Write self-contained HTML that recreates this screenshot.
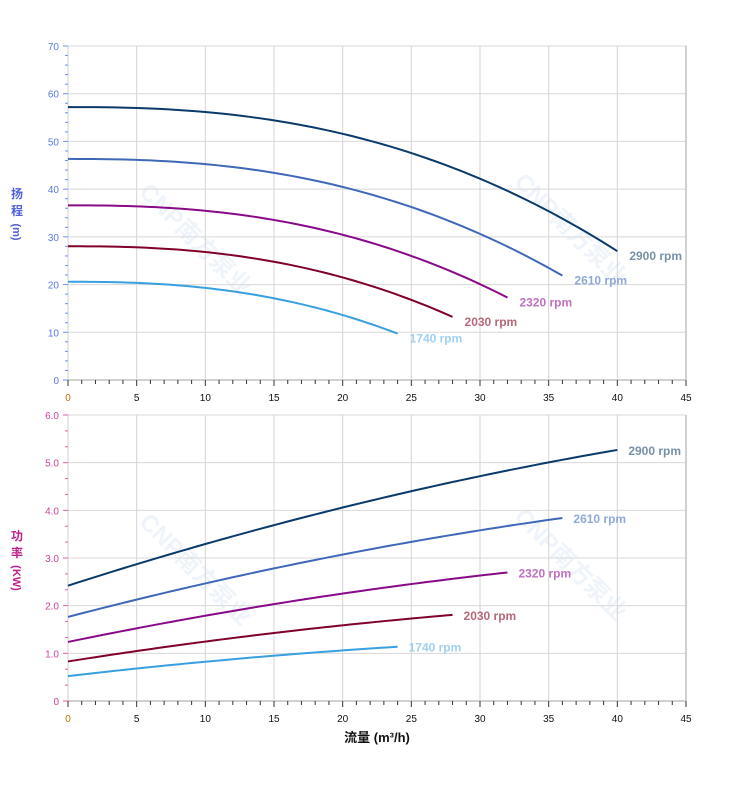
<!DOCTYPE html>
<html><head><meta charset="utf-8"><style>
body{margin:0;background:#fff;}
svg text{font-family:"Liberation Sans","Noto Sans CJK SC",sans-serif;}
</style></head><body>
<svg id="s" width="752" height="797" xmlns="http://www.w3.org/2000/svg"></svg>
<script>
var s=document.getElementById('s'),h='';
var X0=68,X1=686;function X(q){return X0+q*(X1-X0)/45;}
var T0=380,T1=46;function YT(v){return T0-v*(T0-T1)/70;}
var B0=701,B1=415;function YB(v){return B0-v*(B0-B1)/6;}
function ln(x1,y1,x2,y2,c,w){h+='<line x1="'+x1+'" y1="'+y1+'" x2="'+x2+'" y2="'+y2+'" stroke="'+c+'" stroke-width="'+(w||1)+'"/>';}
function tx(x,y,t,c,sz,anc,extra){h+='<text x="'+x+'" y="'+y+'" fill="'+c+'" font-size="'+sz+'" text-anchor="'+(anc||'start')+'" '+(extra||'')+'>'+t+'</text>';}
[[190,245],[565,235],[190,575],[565,570]].forEach(function(p){
h+='<text x="'+p[0]+'" y="'+p[1]+'" fill="#eef4fa" font-size="24" font-weight="bold" text-anchor="middle" transform="rotate(45 '+p[0]+' '+p[1]+')">CNP南方泵业</text>';});
for(var q=5;q<=45;q+=5){ln(X(q),T1,X(q),T0,'#d4d4d4');ln(X(q),B1,X(q),B0,'#d4d4d4');}
for(var v=10;v<=70;v+=10)ln(X0,YT(v),X1,YT(v),'#d8d8d8');
for(var v=1;v<=6;v++)ln(X0,YB(v),X1,YB(v),'#d8d8d8');
ln(X1,T1,X1,T0,'#d0d0d0',2);ln(X1,B1,X1,B0,'#d0d0d0',2);
ln(X0,T0,X1,T0,'#d0d0d0',2);ln(X0,B0,X1,B0,'#d0d0d0',2);
ln(X0,T1,X0,T0,'#d0d0d0',1);ln(X0,B1,X0,B0,'#d0d0d0',1);
for(var v=0;v<=70;v+=2){var y=YT(v);ln(v%10==0?63:65,y,68,y,'#6f8ef0',1);}
for(var v=0;v<=70;v+=10)tx(59,YT(v)+4,v,'#5a78e6',10,'end');
for(var i=0;i<=18;i++){var y=YB(i/3);ln(i%3==0?63:65,y,68,y,'#e060a8',1);}
for(var v=0;v<=6;v++)tx(59,YB(v)+4,v==0?'0':v.toFixed(1),'#d0409a',10,'end');
for(var q=0;q<=45;q++){var l=q%5==0?6:4;ln(X(q),T0,X(q),T0+l,'#333',1);ln(X(q),B0,X(q),B0+l,'#333',1);}
for(var q=0;q<=45;q+=5){tx(X(q),T0+21,q,q==0?'#c07000':'#111',10,'middle');tx(X(q),B0+21,q,q==0?'#c07000':'#111',10,'middle');}
tx(17,198,'扬','#5060d8',12,'middle','font-weight="bold"');tx(17,215,'程','#5060d8',12,'middle','font-weight="bold"');
tx(17,236,'(m)','#5060d8',11,'middle','font-weight="bold" transform="rotate(90 17 232)"');
tx(17,540,'功','#c0208a',12,'middle','font-weight="bold"');tx(17,557,'率','#c0208a',12,'middle','font-weight="bold"');
tx(17,582,'(KW)','#c0208a',11,'middle','font-weight="bold" transform="rotate(90 17 578)"');
tx(377,742,'流量 (m³/h)','#111',13,'middle','font-weight="bold"');
var S=[[2900,'#0a3a6a','#7890a8'],[2610,'#4068b8','#90a8d8'],[2320,'#880a88','#c070c0'],[2030,'#800028','#b86878'],[1740,'#38a0e0','#a0d0f0']];
function Hf(r,q){return r*r*(57.2-30.2*Math.pow(q/(40*r),2.43));}
S.forEach(function(a){var r=a[0]/2900,qe=40*r,p1='',p2='';
for(var i=0;i<=60;i++){var q=qe*i/60;
var H=Hf(r,q);var u=q/r;var P=r*r*r*(2.42+0.0927*u-0.000538*u*u);
p1+=(i?'L':'M')+X(q).toFixed(2)+' '+YT(H).toFixed(2);p2+=(i?'L':'M')+X(q).toFixed(2)+' '+YB(P).toFixed(2);}
h+='<path d="'+p1+'" fill="none" stroke="'+a[1]+'" stroke-width="2"/>';
h+='<path d="'+p2+'" fill="none" stroke="'+a[1]+'" stroke-width="2"/>';
var He=Hf(r,qe),Pe=r*r*r*5.27;
tx(X(qe)+12,YT(He)+9,a[0]+' rpm',a[2],12,'start','font-weight="bold"');
tx(X(qe)+11,YB(Pe)+5,a[0]+' rpm',a[2],12,'start','font-weight="bold"');});
s.innerHTML=h;
</script>
</body></html>
